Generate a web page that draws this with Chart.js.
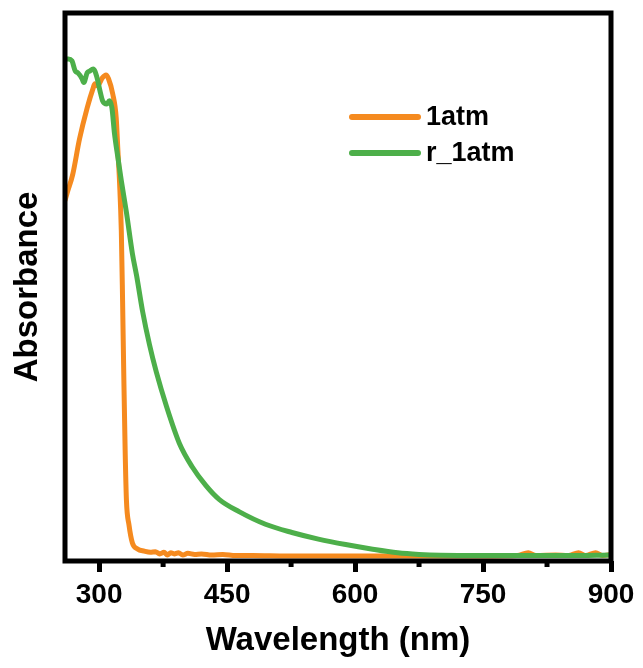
<!DOCTYPE html>
<html>
<head>
<meta charset="utf-8">
<script src="https://cdn.jsdelivr.net/npm/chart.js@4.4.1/dist/chart.umd.min.js"></script>
<style>
  html, body { margin: 0; padding: 0; background: #ffffff; }
  #wrap { width: 643px; height: 668px; position: relative; }
</style>
</head>
<body>
<div id="wrap"><canvas id="c" width="643" height="668"></canvas></div>
<script>
// ---- data ----
const seriesLabels = ['1atm', 'r_1atm'];
const xTickValues = [300, 450, 600, 750, 900];
const xMinorTicks = [375, 525, 675, 825];

const wl1 = [260, 263, 269, 277, 286, 293, 295, 298, 304, 308, 311, 316, 320, 322, 324, 326, 327.5, 329, 330.5, 332, 335, 339, 345, 353, 360, 366, 371, 376, 380, 384, 388, 393, 398, 404, 412, 420, 432, 445, 460, 480, 520, 580, 650, 720, 790, 803, 812, 835, 850, 862, 870, 882, 890, 900];
const abs1 = [65.8, 67.4, 70.5, 77.0, 82.7, 86.3, 87.1, 86.7, 88.2, 88.7, 88.0, 85.2, 80.9, 74.9, 68.9, 60.3, 47.5, 33.0, 20.2, 11.1, 6.6, 3.3, 2.2, 1.8, 1.6, 1.7, 1.3, 1.6, 1.1, 1.5, 1.3, 1.5, 1.1, 1.4, 1.2, 1.3, 1.1, 1.2, 1.0, 1.0, 0.9, 0.9, 0.9, 0.9, 1.0, 1.5, 1.0, 1.1, 1.0, 1.5, 1.0, 1.5, 1.0, 1.2];

const wl2 = [260, 264, 268, 272, 275, 280, 282, 286, 289, 293, 297, 301, 304, 309, 312, 315, 318, 322, 326, 332, 339, 344, 351, 359, 367, 379, 394, 409, 425, 441, 464, 495, 526, 557, 589, 619, 650, 675, 700, 750, 800, 850, 900];
const abs2 = [91.6, 91.6, 91.3, 89.4, 89.1, 88.0, 87.3, 89.1, 89.4, 89.8, 88.5, 85.8, 84.0, 83.4, 84.0, 82.7, 78.0, 73.6, 69.4, 63.6, 56.1, 52.0, 45.5, 39.5, 34.5, 28.2, 21.5, 17.2, 13.8, 11.2, 9.0, 6.7, 5.2, 4.0, 3.0, 2.2, 1.5, 1.2, 1.05, 1.0, 1.0, 1.0, 1.1];

const ORANGE = '#F58A1F';
const GREEN = '#4DAF4A';
const FONT = '"Liberation Sans", Arial, Helvetica, sans-serif';

const toPts = (xs, ys) => xs.map((x, i) => ({ x: x, y: ys[i] }));

const framePlugin = {
  id: 'frame',
  afterDraw(chart) {
    const { ctx, chartArea: a, scales } = chart;
    ctx.save();
    ctx.strokeStyle = '#000';
    ctx.lineWidth = 5;
    ctx.strokeRect(a.left, a.top, a.right - a.left, a.bottom - a.top);
    // minor ticks
    ctx.lineWidth = 5;
    xMinorTicks.forEach(v => {
      const px = scales.x.getPixelForValue(v);
      ctx.beginPath();
      ctx.moveTo(px, a.bottom);
      ctx.lineTo(px, a.bottom + 6);
      ctx.stroke();
    });
    // legend inside plot
    const lx0 = 352, lx1 = 418, ly0 = 117, dy = 36;
    chart.data.datasets.forEach((ds, i) => {
      const y = ly0 + i * dy;
      ctx.strokeStyle = ds.borderColor;
      ctx.lineWidth = 6;
      ctx.lineCap = 'round';
      ctx.beginPath();
      ctx.moveTo(lx0, y);
      ctx.lineTo(lx1, y);
      ctx.stroke();
      ctx.fillStyle = '#000';
      ctx.font = 'bold 27px ' + FONT;
      ctx.textBaseline = 'middle';
      ctx.textAlign = 'left';
      ctx.fillText(ds.label, 426, y + 1);
    });
    ctx.restore();
  }
};

new Chart(document.getElementById('c'), {
  type: 'line',
  data: {
    datasets: [
      { label: seriesLabels[0], data: toPts(wl1, abs1), borderColor: ORANGE, order: 1 },
      { label: seriesLabels[1], data: toPts(wl2, abs2), borderColor: GREEN, order: 0 }
    ]
  },
  options: {
    responsive: false,
    animation: false,
    devicePixelRatio: 1,
    layout: { padding: { left: 0, right: 32, top: 13, bottom: 0 } },
    elements: {
      point: { radius: 0 },
      line: { borderWidth: 5, tension: 0.35, cubicInterpolationMode: 'monotone', borderCapStyle: 'round', borderJoinStyle: 'round', fill: false }
    },
    plugins: { legend: { display: false }, tooltip: { enabled: false } },
    scales: {
      x: {
        type: 'linear',
        min: 260,
        max: 900,
        afterBuildTicks(scale) { scale.ticks = xTickValues.map(v => ({ value: v })); },
        afterFit(scale) { scale.height = 107; },
        grid: { display: true, drawOnChartArea: false, drawTicks: true, tickLength: 11, tickWidth: 5, tickColor: '#000' },
        border: { display: false },
        ticks: { color: '#000', font: { family: FONT, size: 28, weight: 'bold' }, padding: 6, maxRotation: 0, autoSkip: false },
        title: { display: true, text: 'Wavelength (nm)', color: '#000', font: { family: FONT, size: 33, weight: 'bold' }, padding: { top: 0, bottom: 7 } }
      },
      y: {
        type: 'linear',
        min: 0,
        max: 100,
        afterFit(scale) { scale.width = 65; },
        grid: { display: false },
        border: { display: false },
        ticks: { display: false },
        title: { display: true, text: 'Absorbance', color: '#000', font: { family: FONT, size: 33, weight: 'bold' }, padding: { top: 8, bottom: 0 } }
      }
    }
  },
  plugins: [framePlugin]
});
</script>
</body>
</html>
